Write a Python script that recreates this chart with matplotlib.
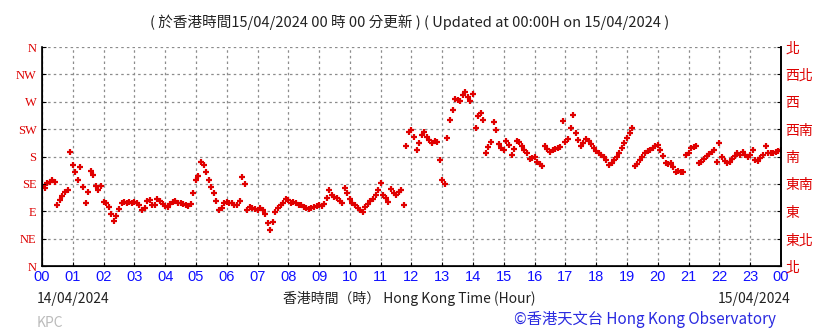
import matplotlib
matplotlib.use("Agg")
import matplotlib.pyplot as plt
import numpy as np

# wind direction (degrees) every 5 minutes, 14/04/2024 00:00 -> 15/04/2024 00:00
wind_dir = [
    131, 128, 136, 138, 141, 138, 100, 109, 115, 122, 125, 187,   # 00
    166, 155, 141, 163, 130, 104, 122, 156, 150, 132, 125, 131,   # 01
    105, 104, 97, 85, 74, 82, 94, 104, 105, 104, 105, 104,        # 02
    105, 104, 100, 92, 95, 107, 109, 100, 100, 110, 107, 102,     # 03
    99, 97, 102, 105, 107, 104, 104, 102, 100, 99, 102, 120,      # 04
    141, 148, 171, 166, 155, 141, 130, 120, 107, 92, 95, 104,     # 05
    105, 104, 104, 100, 100, 107, 146, 135, 92, 97, 95, 94,       # 06
    92, 95, 92, 85, 71, 59, 72, 89, 95, 100, 104, 110,            # 07
    109, 104, 105, 104, 100, 100, 97, 95, 94, 95, 97, 99,         # 08
    100, 99, 102, 112, 125, 117, 113, 112, 107, 104, 128, 120,    # 09
    110, 104, 100, 95, 92, 89, 97, 102, 107, 110, 117, 125,       # 10
    136, 117, 112, 105, 127, 120, 117, 122, 125, 100, 197, 220,   # 11
    224, 212, 191, 202, 215, 220, 212, 207, 202, 205, 204, 174,   # 12
    141, 135, 210, 240, 256, 275, 273, 271, 281, 286, 278, 271,   # 13
    283, 227, 247, 252, 240, 186, 196, 204, 237, 224, 201, 194,   # 14
    191, 205, 199, 182, 192, 205, 204, 197, 191, 186, 176, 178,   # 15
    179, 171, 168, 164, 197, 192, 187, 191, 192, 194, 196, 238,   # 16
    204, 209, 227, 248, 219, 207, 197, 202, 209, 205, 201, 194,   # 17
    189, 186, 182, 179, 174, 166, 169, 174, 179, 186, 194, 202,   # 18
    210, 219, 227, 164, 168, 174, 179, 186, 189, 191, 194, 197,   # 19
    199, 191, 181, 169, 168, 169, 163, 155, 156, 155, 155, 182,   # 20
    186, 194, 196, 197, 169, 171, 176, 181, 184, 187, 191, 171,   # 21
    202, 179, 173, 169, 171, 176, 181, 186, 182, 187, 182, 179,   # 22
    182, 191, 174, 173, 178, 182, 197, 186, 186, 186, 187, 189,   # 23
    191,
]
hours = np.arange(len(wind_dir)) * 5 / 60

dir_levels = [0, 45, 90, 135, 180, 225, 270, 315, 360]
dir_en = ["N", "NE", "E", "SE", "S", "SW", "W", "NW", "N"]
dir_zh = ["北", "東北", "東", "東南", "南", "西南", "西", "西北", "北"]
hour_labels = ["%02d" % h for h in range(24)] + ["00"]

plt.rcParams['font.family'] = ['Noto Sans CJK TC', 'DejaVu Sans']

fig = plt.figure(figsize=(8.36, 3.31), dpi=100)
ax = fig.add_axes([0.0502, 0.196, 0.8840, 0.662])

red = '#e00000'
ax.plot(hours, wind_dir, linestyle='none', marker='+', ms=4.5, mew=1.6, color=red)

ax.set_xlim(0, 24)
ax.set_ylim(0, 360)
ax.set_xticks(range(25))
ax.set_xticklabels(hour_labels, color='#1010ff', fontsize=10.5, family='Liberation Sans')
ax.set_yticks(dir_levels)
ax.set_yticklabels(dir_en, color='#dd0000', fontsize=9, family='Liberation Serif')
ax.tick_params(axis='x', direction='in', length=3, pad=3)
ax.tick_params(axis='y', direction='in', length=3, pad=4)
ax.grid(True, linestyle=(0, (2, 2.5)), color='#8c8c8c', linewidth=0.9)
ax.spines['top'].set_visible(False)
for s in ['left', 'right', 'bottom']:
    ax.spines[s].set_linewidth(1.2)

ax2 = ax.twinx()
ax2.set_ylim(0, 360)
ax2.set_yticks(dir_levels)
ax2.set_yticklabels(dir_zh, color='#dd0000', fontsize=10)
ax2.tick_params(axis='y', direction='in', length=3, pad=3)
ax2.spines['top'].set_visible(False)
ax2.spines['right'].set_linewidth(1.2)

fig.text(0.49, 0.932, "( 於香港時間15/04/2024 00 時 00 分更新 ) ( Updated at 00:00H on 15/04/2024 )",
         ha='center', va='center', fontsize=10.5, color='#222222')
fig.text(0.044, 0.098, "14/04/2024", ha='left', va='center', fontsize=10, color='#222222')
fig.text(0.49, 0.098, "香港時間（時） Hong Kong Time (Hour)", ha='center', va='center',
         fontsize=10, color='#222222')
fig.text(0.945, 0.098, "15/04/2024", ha='right', va='center', fontsize=10, color='#222222')
fig.text(0.044, 0.025, "KPC", ha='left', va='center', fontsize=10, color='#bbbbbb')
fig.text(0.928, 0.035, "©香港天文台 Hong Kong Observatory", ha='right', va='center',
         fontsize=11, color='#2a2ae0')

fig.savefig("out.png", dpi=100)
